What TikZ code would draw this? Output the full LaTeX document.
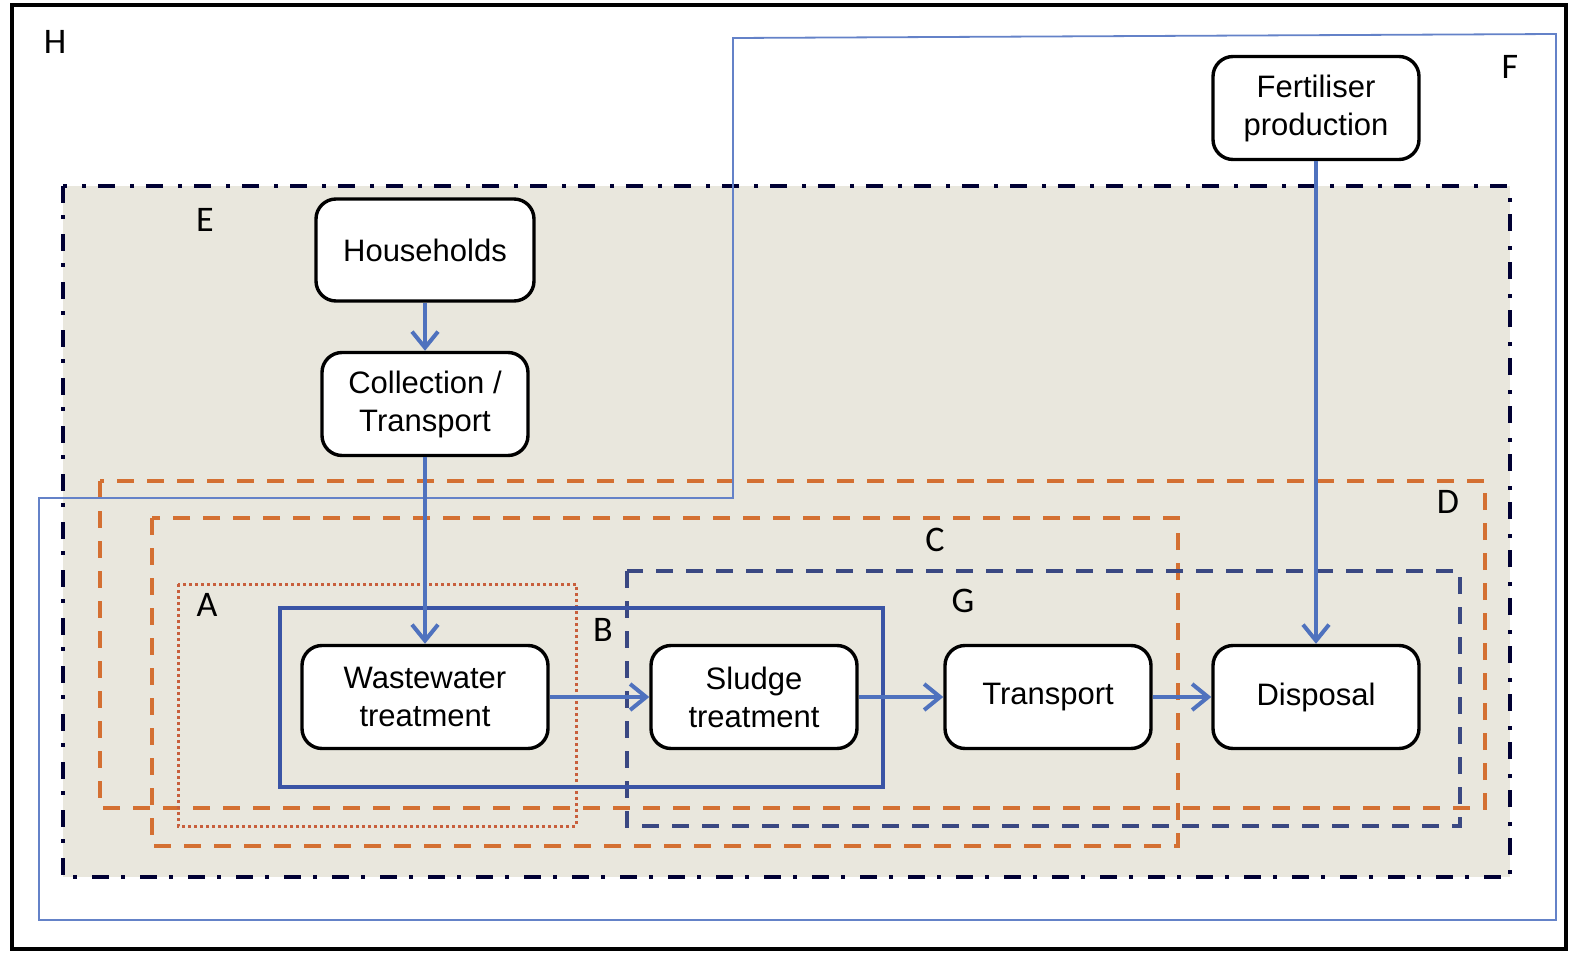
\documentclass[tikz,border=0pt]{standalone}
\usepackage{fontspec}
\setmainfont{Liberation Sans}
\newfontfamily\lblfont{Carlito}
\usetikzlibrary{arrows.meta}
\definecolor{sandbg}{RGB}{233,231,221}
\definecolor{flowblue}{RGB}{79,114,190}
\definecolor{boxblue}{RGB}{58,84,165}
\definecolor{gblue}{RGB}{58,72,130}
\definecolor{fblue}{RGB}{100,130,200}
\definecolor{dorange}{RGB}{212,112,50}
\definecolor{aorange}{RGB}{200,95,60}
\begin{document}
\begin{tikzpicture}[x=0.5pt,y=-0.5pt,
    proc/.style={draw=black,line width=1.7pt,fill=white,rounded corners=10pt,
      minimum width=103pt,minimum height=51.5pt,align=center,inner sep=2pt,
      font=\fontsize{15.5}{19}\selectfont},
    flow/.style={draw=flowblue,line width=2pt,-{Straight Barb[length=8pt,width=13pt]}},
    lbl/.style={font=\lblfont\fontsize{18}{20}\selectfont,inner sep=0pt},
    dashbox/.style={line width=1.7pt,dash pattern=on 8.5pt off 6.5pt}]
    \useasboundingbox (0,0) rectangle (1570,953);
    % outer boundary H
    \draw [line width=1.6pt] (12,5) rectangle (1566,949);
    % E
    \draw [fill=sandbg,draw=black!80!blue,line width=1.8pt,
      dash pattern=on 8.5pt off 6pt on 2pt off 7.5pt] (63,186) rectangle (1510,877);
    % D, C, A, G
    \draw [dashbox,dorange] (100,481) rectangle (1485,808);
    \draw [dashbox,dorange] (152,518) rectangle (1178,846);
    \draw [aorange,line width=1.5pt,dash pattern=on 1.5pt off 1.5pt] (178,584) rectangle (576,826);
    \draw [dashbox,gblue] (627,571) rectangle (1460,826);
    % F
    \draw [fblue,line width=0.9pt] (39,498) -- (733,498) -- (733,38) -- (1556,34)
      -- (1556,920) -- (39,920) -- cycle;
    % B
    \draw [boxblue,line width=1.6pt] (280,608) rectangle (883,787);

    \node [proc,minimum width=109pt,minimum height=51pt] (hh) at (425,250) {Households};
    \node [proc] (coll) at (425,404) {Collection /\\Transport};
    \node [proc,minimum width=123pt] (wwt) at (425,697) {Wastewater\\treatment};
    \node [proc] (sludge) at (754,697) {Sludge\\treatment};
    \node [proc] (trans) at (1048,697) {Transport};
    \node [proc] (disp) at (1316,697) {Disposal};
    \node [proc] (fert) at (1316,108) {Fertiliser\\production};

    \draw [flow] (hh) -- (coll);
    \draw [flow] (coll) -- (wwt);
    \draw [flow] (wwt) -- (sludge);
    \draw [flow] (sludge) -- (trans);
    \draw [flow] (trans) -- (disp);
    \draw [flow] (fert) -- (disp);

    \node [lbl] (lH) at (55,42) {H};
    \node [lbl] (lF) at (1510,67) {F};
    \node [lbl] (lE) at (205,220) {E};
    \node [lbl] (lD) at (1448,502) {D};
    \node [lbl] (lC) at (935,540) {C};
    \node [lbl] (lA) at (207,605) {A};
    \node [lbl] (lB) at (603,630) {B};
    \node [lbl] (lG) at (963,601) {G};
\end{tikzpicture}
\end{document}
